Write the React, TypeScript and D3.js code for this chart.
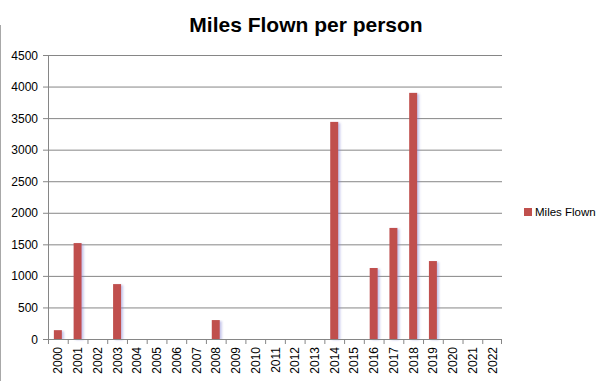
import React from "react";
import * as d3 from "d3";

const years = ["2000","2001","2002","2003","2004","2005","2006","2007","2008","2009","2010","2011","2012","2013","2014","2015","2016","2017","2018","2019","2020","2021","2022"];
const milesFlown = [140,1520,0,870,0,0,0,0,300,0,0,0,0,0,3440,0,1125,1760,3900,1235,0,0,0];
const yTicks = [0,500,1000,1500,2000,2500,3000,3500,4000,4500];
const title = "Miles Flown per person";
const seriesName = "Miles Flown";

export default function App() {
  const W = 612, H = 381;
  const left = 48, right = 502, top = 55, bottom = 339;
  const x = d3.scaleBand().domain(years).range([left, right]).paddingInner(0).paddingOuter(0);
  const y = d3.scaleLinear().domain([0, 4500]).range([bottom, top]);
  const bw = 8;
  const font = "'Liberation Sans', Arial, sans-serif";
  return (
    <svg width={W} height={H} style={{ position: "absolute", left: 0, top: 0 }} fontFamily={font}>
      <defs>
        <filter id="sh" x="-50%" y="-5%" width="200%" height="110%">
          <feGaussianBlur in="SourceAlpha" stdDeviation="1" />
          <feOffset dx="1.5" dy="1" result="b" />
          <feFlood floodColor="#8080d0" floodOpacity="0.45" />
          <feComposite in2="b" operator="in" />
          <feMerge><feMergeNode /><feMergeNode in="SourceGraphic" /></feMerge>
        </filter>
      </defs>
      <rect x={0} y={0} width={W} height={H} fill="#fff" />
      <line x1={0.5} x2={0.5} y1={25} y2={H} stroke="#a8a8a8" />
      <text x={306} y={32} textAnchor="middle" fontSize={21} fontWeight="bold" fill="#000">{title}</text>
      {yTicks.map(t => (
        <g key={t}>
          {t > 0 && <line x1={left} x2={right} y1={y(t) + 0.5} y2={y(t) + 0.5} stroke="#868686" />}
          <line x1={left - 5} x2={left} y1={y(t) + 0.5} y2={y(t) + 0.5} stroke="#868686" />
          <text x={left - 10} y={y(t) + 4.5} textAnchor="end" fontSize={12} fill="#000">{t}</text>
        </g>
      ))}
      {milesFlown.map((v, i) => v > 0 ? (
        <rect key={i} x={x(years[i])! + x.bandwidth() / 2 - bw / 2} y={y(v)} width={bw} height={bottom - y(v)} fill="#C0504D" filter="url(#sh)" />
      ) : null)}
      <line x1={left + 0.5} x2={left + 0.5} y1={top} y2={bottom} stroke="#868686" />
      <line x1={left} x2={right} y1={bottom + 0.5} y2={bottom + 0.5} stroke="#868686" />
      {years.map((yr) => (
        <line key={"t" + yr} x1={x(yr)! + 0.5} x2={x(yr)! + 0.5} y1={bottom} y2={bottom + 5} stroke="#868686" />
      ))}
      <line x1={right - 0.5} x2={right - 0.5} y1={bottom} y2={bottom + 5} stroke="#868686" />
      {years.map(yr => {
        const cx = x(yr)! + x.bandwidth() / 2;
        return (
          <text key={"l" + yr} transform={`translate(${cx + 4.5},${347}) rotate(-90)`} textAnchor="end" fontSize={12} fill="#000">{yr}</text>
        );
      })}
      <rect x={524} y={208} width={8} height={8} fill="#C0504D" />
      <text x={535} y={216} fontSize={11.5} fill="#000">{seriesName}</text>
    </svg>
  );
}
